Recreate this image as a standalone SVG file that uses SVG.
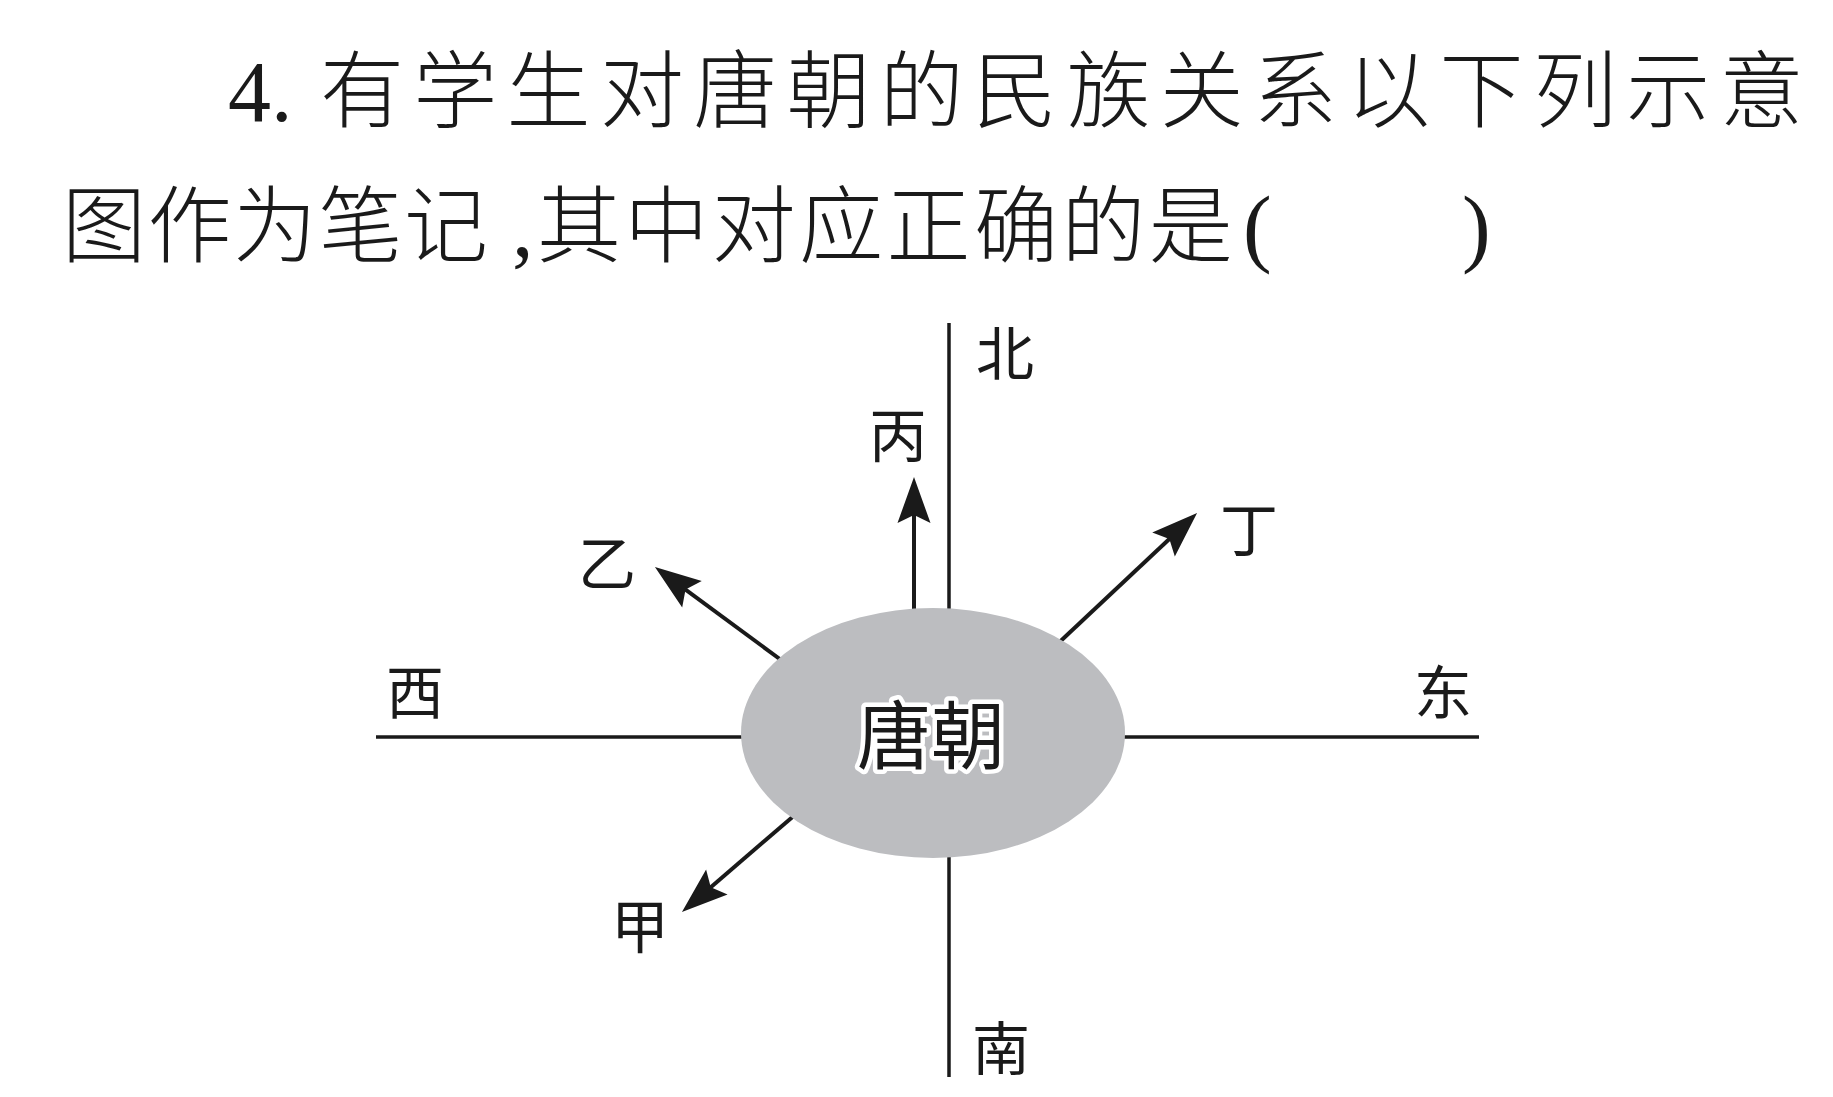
<svg xmlns="http://www.w3.org/2000/svg" width="1833" height="1097" viewBox="0 0 1833 1097">
<style>
.q{font-family:"Noto Sans CJK SC","Noto Sans CJK TC",sans-serif;font-size:84px;font-weight:300;fill:#1a1a1a}
.lat{font-family:"Liberation Serif",serif;font-size:86px;fill:#1a1a1a}
.lbl{font-family:"Noto Sans CJK SC",sans-serif;font-size:58px;fill:#1a1a1a;text-anchor:middle}
.ax{stroke:#1a1a1a;stroke-width:3.5;fill:none}
.ar{stroke:#1a1a1a;stroke-width:4;fill:none}
.core{font-family:"Noto Sans CJK SC",sans-serif;font-size:74px;fill:#1a1a1a;text-anchor:middle;stroke:#ffffff;stroke-width:9;stroke-linejoin:round;paint-order:stroke}
</style>
<defs>
<marker id="ah" markerUnits="userSpaceOnUse" viewBox="-20 -20 52 40" refX="0" refY="0" markerWidth="52" markerHeight="40" orient="auto">
<path d="M30,0 L-16,-16.5 L-8,0 L-16,16.5 Z" fill="#1a1a1a"/>
</marker>
</defs>
<rect width="1833" height="1097" fill="#ffffff"/>
<g id="question">
<text class="lat" x="228" y="121">4.</text>
<text class="q" y="121" x="320 413.3 506.6 599.9 693.2 786.5 879.8 973.1 1066.4 1159.7 1253 1346.3 1439.6 1532.9 1626.2 1719.5">有学生对唐朝的民族关系以下列示意</text>
<text class="q" y="256" x="62 147.5 233 318.5 404">图作为笔记</text>
<text class="lat" x="512" y="256">,</text>
<text class="q" y="256" x="537 624.4 711.8 799.2 886.6 974 1061.4 1148.8">其中对应正确的是</text>
<text class="lat" x="1243" y="256">(</text>
<text class="lat" x="1462" y="256">)</text>
</g>
<g id="connectors">
<line class="ax" x1="949" y1="323" x2="949" y2="630"/>
<line class="ax" x1="949" y1="840" x2="949" y2="1077"/>
<line class="ax" x1="376" y1="737" x2="770" y2="737"/>
<line class="ax" x1="1100" y1="737" x2="1479" y2="737"/>
<line class="ar" x1="914" y1="625" x2="914" y2="507" marker-end="url(#ah)"/>
<line class="ar" x1="1050" y1="651" x2="1175.2" y2="533.5" marker-end="url(#ah)"/>
<line class="ar" x1="792" y1="668" x2="679.1" y2="584.8" marker-end="url(#ah)"/>
<line class="ar" x1="803" y1="808" x2="704.7" y2="892.4" marker-end="url(#ah)"/>
</g>
<g id="tang">
<ellipse cx="933" cy="733" rx="192" ry="125" fill="#bcbdc0"/>
<text class="core" x="931" y="763">唐朝</text>
</g>
<g id="north"><text class="lbl" x="1005" y="375">北</text></g>
<g id="south"><text class="lbl" x="1001" y="1070">南</text></g>
<g id="west"><text class="lbl" x="415" y="714">西</text></g>
<g id="east"><text class="lbl" x="1443" y="714">东</text></g>
<g id="bing"><text class="lbl" x="898" y="457">丙</text></g>
<g id="ding"><text class="lbl" x="1249" y="551">丁</text></g>
<g id="yi"><text class="lbl" x="607" y="585">乙</text></g>
<g id="jia"><text class="lbl" x="640" y="948">甲</text></g>
</svg>
